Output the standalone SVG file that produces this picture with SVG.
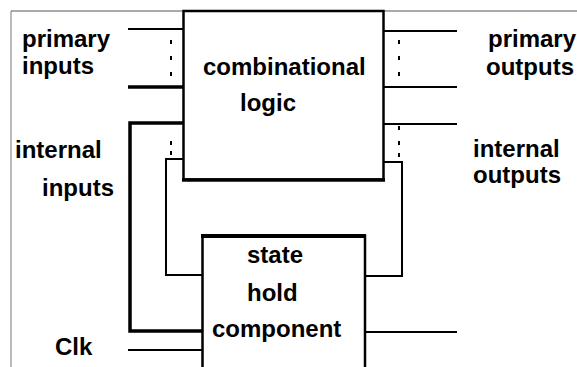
<svg xmlns="http://www.w3.org/2000/svg" width="577" height="367" viewBox="0 0 577 367">
<style>
.t{font-family:"Liberation Sans",Arial,sans-serif;font-weight:bold;font-size:24px;fill:#000}
.w{stroke:#000;stroke-width:2;fill:none}
.k{stroke:#000;stroke-width:3.5;fill:none}
.d{fill:#000}
</style>
<rect width="577" height="367" fill="#fff"/>
<g id="frame">
<line x1="11" y1="11" x2="577" y2="11" stroke="#555" stroke-width="1"/>
<line x1="11" y1="11" x2="11" y2="367" stroke="#777" stroke-width="1"/>
</g>
<g id="connectors">
<line class="w" x1="128" y1="29" x2="183" y2="29"/>
<line class="k" x1="128" y1="87" x2="183" y2="87"/>
<polyline class="k" points="183,123 130,123 130,331 202,331"/>
<polyline class="w" points="183,159 166,159 166,275 202,275"/>
<line class="w" x1="128" y1="350" x2="202" y2="350"/>
<line class="w" x1="384" y1="31" x2="457" y2="31"/>
<line class="w" x1="384" y1="87" x2="457" y2="87"/>
<line class="w" x1="384" y1="124" x2="457" y2="124"/>
<polyline class="w" points="384,162 402,162 402,276 365,276"/>
<line class="w" x1="365" y1="332" x2="457" y2="332"/>
<rect class="d" x="170" y="40" width="2" height="4"/>
<rect class="d" x="170" y="56" width="2" height="4"/>
<rect class="d" x="170" y="72" width="2" height="4"/>
<rect class="d" x="170" y="141" width="2" height="4"/>
<rect class="d" x="170" y="151" width="2" height="4"/>
<rect class="d" x="398" y="40" width="2" height="4"/>
<rect class="d" x="398" y="56" width="2" height="4"/>
<rect class="d" x="398" y="72" width="2" height="4"/>
<rect class="d" x="398" y="126" width="2" height="4"/>
<rect class="d" x="398" y="141" width="2" height="4"/>
<rect class="d" x="398" y="153" width="2" height="4"/>
</g>
<g id="combinational-logic">
<rect x="183.5" y="11" width="200" height="168.5" fill="#fff" stroke="#000" stroke-width="2.5"/>
<line x1="182" y1="180" x2="385" y2="180" stroke="#000" stroke-width="3.5"/>
<text class="t" x="203" y="75">combinational</text>
<text class="t" x="240" y="111">logic</text>
</g>
<g id="state-hold-component">
<rect x="202.5" y="236" width="162.5" height="150" fill="#fff" stroke="#000" stroke-width="2.5"/>
<line x1="201" y1="236" x2="366" y2="236" stroke="#000" stroke-width="4"/>
<text class="t" x="247" y="263">state</text>
<text class="t" x="247" y="301">hold</text>
<text class="t" x="212" y="337">component</text>
</g>
<g id="labels">
<text class="t" x="22" y="47">primary</text>
<text class="t" x="22" y="74">inputs</text>
<text class="t" x="15" y="158">internal</text>
<text class="t" x="42" y="196">inputs</text>
<text class="t" x="55" y="355">Clk</text>
<text class="t" x="488" y="47">primary</text>
<text class="t" x="486" y="75">outputs</text>
<text class="t" x="473" y="157">internal</text>
<text class="t" x="473" y="183">outputs</text>
</g>
</svg>
